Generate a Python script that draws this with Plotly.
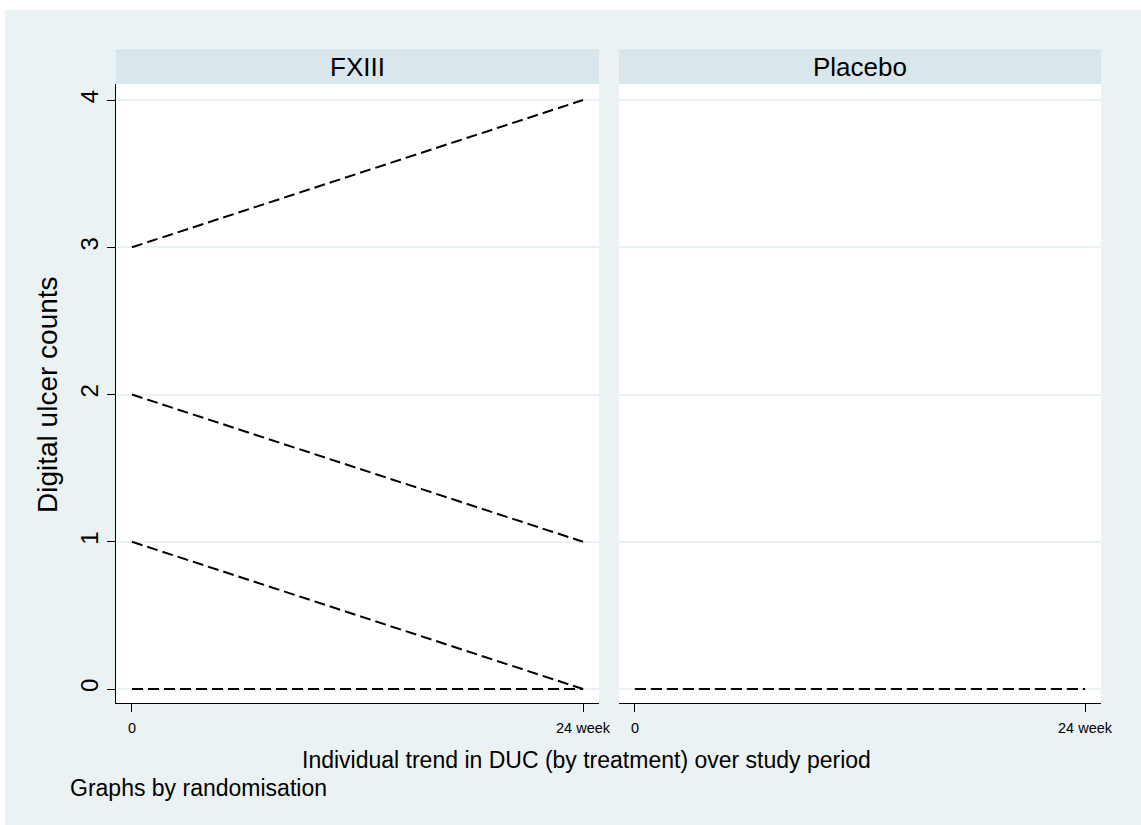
import plotly.graph_objects as go

# Panels (by randomisation) and individual start/end digital ulcer counts
panels = ["FXIII", "Placebo"]
time_points = [0, 24]
fxiii_start = [3, 2, 1, 0, 0]
fxiii_end = [4, 1, 0, 0, 0]
placebo_start = [0, 0]
placebo_end = [0, 0]

y_ticks = [0, 1, 2, 3, 4]
x_tick_text = ["0", "24 week"]

W, H = 1141, 825
FONT = "Liberation Sans, Arial, sans-serif"
BG = "#EAF2F3"
STRIP = "#D9E6EB"


def px_x(p):
    return p / W


def px_y(p):
    return 1 - p / H


fig = go.Figure()

series = [
    ("x", "y", fxiii_start, fxiii_end),
    ("x2", "y2", placebo_start, placebo_end),
]
for xa, ya, starts, ends in series:
    for s, e in zip(starts, ends):
        fig.add_trace(go.Scatter(
            x=time_points, y=[s, e], mode="lines",
            line=dict(color="black", width=2, dash="11px,5px"),
            xaxis=xa, yaxis=ya, showlegend=False, hoverinfo="skip",
        ))

x_dom1 = [px_x(116), px_x(599)]
x_dom2 = [px_x(619), px_x(1101)]
y_dom = [px_y(703), px_y(84)]

x_common = dict(
    range=[-0.85, 24.85], tickvals=time_points, ticktext=x_tick_text,
    showgrid=False, zeroline=False, showline=True, linecolor="black",
    linewidth=1.3, ticks="outside", ticklen=8, tickcolor="black",
    tickwidth=1.3, tickfont=dict(family=FONT, size=14.5, color="black"),
    ticklabelstandoff=3, automargin=False,
)
y_common = dict(
    range=[-0.095, 4.109], tickvals=y_ticks, showgrid=True,
    gridcolor=BG, gridwidth=2, zeroline=False, domain=y_dom,
    automargin=False,
)

fig.update_layout(
    width=W, height=H, autosize=False,
    margin=dict(l=0, r=0, t=0, b=0, pad=0),
    paper_bgcolor=BG, plot_bgcolor="white",
    xaxis=dict(domain=x_dom1, anchor="y", **x_common),
    xaxis2=dict(domain=x_dom2, anchor="y2", **x_common),
    yaxis=dict(
        anchor="x", showline=True, linecolor="black", linewidth=1.3,
        ticks="outside", ticklen=8, tickcolor="black", tickwidth=1.3,
        tickangle=-90, tickfont=dict(family=FONT, size=24, color="black"),
        ticklabelstandoff=-1, **y_common,
    ),
    yaxis2=dict(anchor="x2", matches="y", showline=False,
                showticklabels=False, ticks="", **y_common),
    font=dict(family=FONT, color="black"),
)

# White page margin around the graph region
fig.add_shape(type="rect", xref="paper", yref="paper", layer="below",
              x0=0, x1=1, y0=px_y(10), y1=1, fillcolor="white", line_width=0)
fig.add_shape(type="rect", xref="paper", yref="paper", layer="below",
              x0=0, x1=px_x(5), y0=0, y1=1, fillcolor="white", line_width=0)

# Strip headers
for name, (x0, x1) in zip(panels, [x_dom1, x_dom2]):
    fig.add_shape(type="rect", xref="paper", yref="paper",
                  x0=x0, x1=x1, y0=px_y(84), y1=px_y(49),
                  fillcolor=STRIP, line_width=0)
    fig.add_annotation(text=name, xref="paper", yref="paper",
                       x=(x0 + x1) / 2, y=px_y(67), showarrow=False,
                       xanchor="center", yanchor="middle",
                       font=dict(family=FONT, size=26, color="black"))

# Axis titles and note
fig.add_annotation(text="Digital ulcer counts", xref="paper", yref="paper",
                   x=px_x(47), y=px_y(395), textangle=-90, showarrow=False,
                   xanchor="center", yanchor="middle",
                   font=dict(family=FONT, size=28, color="black"))
fig.add_annotation(text="Individual trend in DUC (by treatment) over study period",
                   xref="paper", yref="paper", x=px_x(586), y=px_y(760),
                   showarrow=False, xanchor="center", yanchor="middle",
                   font=dict(family=FONT, size=23, color="black"))
fig.add_annotation(text="Graphs by randomisation", xref="paper", yref="paper",
                   x=px_x(68), y=px_y(788), showarrow=False,
                   xanchor="left", yanchor="middle",
                   font=dict(family=FONT, size=23, color="black"))

fig.write_html("out.html")
